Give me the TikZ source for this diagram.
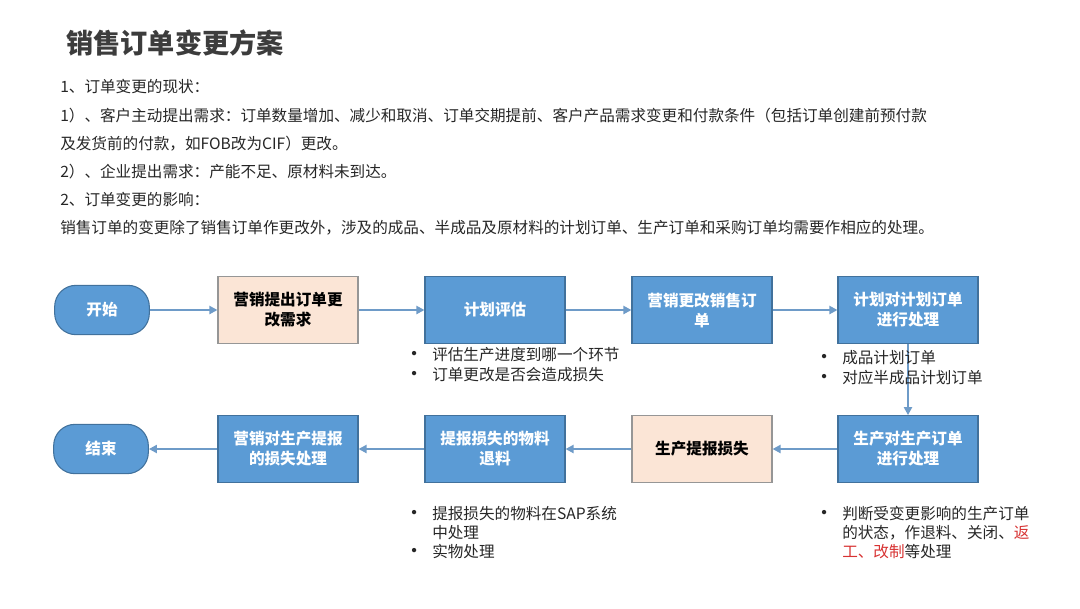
\documentclass[tikz,border=0pt]{standalone}
\usepackage{fontspec}
\setmainfont{Noto Sans CJK SC}
\usetikzlibrary{arrows.meta}
\definecolor{boxblue}{RGB}{91,155,213}
\definecolor{boxedge}{RGB}{65,113,156}
\definecolor{peachfill}{RGB}{251,229,214}
\definecolor{peachedge}{RGB}{150,150,150}
\definecolor{flow}{RGB}{110,155,200}
\definecolor{ink}{RGB}{38,38,38}
\definecolor{hot}{RGB}{215,50,50}
\begin{document}
\begin{tikzpicture}[x=0.75pt,y=-0.75pt,
  task/.style={draw=boxedge,fill=boxblue,text=white,font=\bfseries\fontsize{11.7}{15}\selectfont,
    minimum width=105pt,minimum height=50pt,align=center,inner sep=0pt,line width=0.8pt},
  ask/.style={task,draw=peachedge,fill=peachfill,text=black},
  term/.style={task,minimum width=71pt,minimum height=37pt,rounded corners=16pt},
  go/.style={draw=flow,line width=1.5pt,-{Triangle[length=6pt,width=6pt]}},
  txt/.style={anchor=west,text=ink,inner sep=0pt,font=\fontsize{11.7}{14}\selectfont},
  dot/.style={txt,font=\bfseries\fontsize{11.7}{14}\selectfont}]
  \useasboundingbox (0,0) rectangle (1080,608);
  % heading and notes
  \node[txt,anchor=west,text=ink!90,font=\bfseries\fontsize{20.4}{24}\selectfont] (title) at (66,43) {销售订单变更方案};
  \node[txt] (l1) at (60,87) {1、订单变更的现状：};
  \node[txt] (l2) at (60,116) {1）、客户主动提出需求：订单数量增加、减少和取消、订单交期提前、客户产品需求变更和付款条件（包括订单创建前预付款};
  \node[txt] (l3) at (60,144) {及发货前的付款，如FOB改为CIF）更改。};
  \node[txt] (l4) at (60,172) {2）、企业提出需求：产能不足、原材料未到达。};
  \node[txt] (l5) at (60,200) {2、订单变更的影响：};
  \node[txt] (l6) at (60,228) {销售订单的变更除了销售订单作更改外，涉及的成品、半成品及原材料的计划订单、生产订单和采购订单均需要作相应的处理。};
  % first row
  \node[term] (st) at (102,310) {开始};
  \node[ask] (a) at (288,310) {营销提出订单更\\改需求};
  \node[task] (b) at (495,310) {计划评估};
  \node[task] (c) at (702,310) {营销更改销售订\\单};
  \node[task] (d) at (908,310) {计划对计划订单\\进行处理};
  % second row
  \node[task] (e) at (908,449) {生产对生产订单\\进行处理};
  \node[ask] (f) at (702,449) {生产提报损失};
  \node[task] (g) at (495,449) {提报损失的物料\\退料};
  \node[task] (h) at (288,449) {营销对生产提报\\的损失处理};
  \node[term] (en) at (101,449) {结束};
  \draw[go] (st) -- (a);
  \draw[go] (a) -- (b);
  \draw[go] (b) -- (c);
  \draw[go] (c) -- (d);
  \draw[go] (d) -- (e);
  \draw[go] (e) -- (f);
  \draw[go] (f) -- (g);
  \draw[go] (g) -- (h);
  \draw[go] (h) -- (en);
  % notes under the boxes
  \node[dot] (b1d) at (406,355) {•};
  \node[txt] (b1) at (432,355) {评估生产进度到哪一个环节};
  \node[dot] (b2d) at (406,375) {•};
  \node[txt] (b2) at (432,375) {订单更改是否会造成损失};
  \node[dot] (d1d) at (816,358) {•};
  \node[txt] (d1) at (842,358) {成品计划订单};
  \node[dot] (d2d) at (816,378) {•};
  \node[txt] (d2) at (842,378) {对应半成品计划订单};
  \node[dot] (g1d) at (406,514) {•};
  \node[txt] (g1) at (432,514) {提报损失的物料在SAP系统};
  \node[txt] (g2) at (432,533) {中处理};
  \node[dot] (g3d) at (406,552) {•};
  \node[txt] (g3) at (432,552) {实物处理};
  \node[dot] (e1d) at (816,514) {•};
  \node[txt] (e1) at (842,514) {判断受变更影响的生产订单};
  \node[txt] (e2) at (842,533) {的状态，作退料、关闭、\textcolor{hot}{返}};
  \node[txt] (e3) at (842,552) {\textcolor{hot}{工、改制}等处理};
\end{tikzpicture}
\end{document}
